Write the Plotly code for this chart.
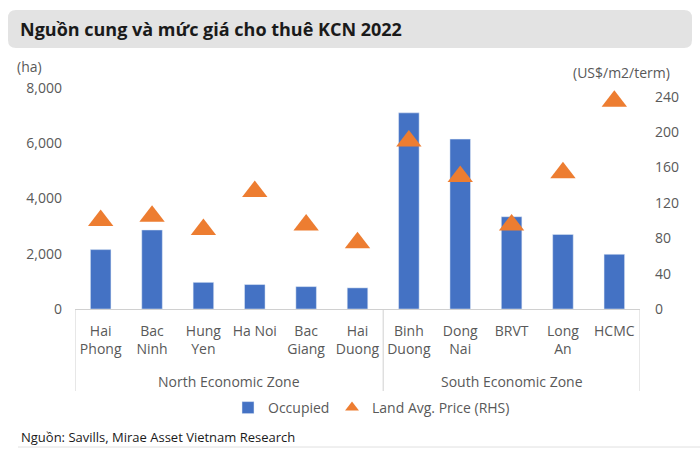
import plotly.graph_objects as go

cities = ["Hai<br>Phong", "Bac<br>Ninh", "Hung<br>Yen", "Ha Noi", "Bac<br>Giang", "Hai<br>Duong",
          "Binh<br>Duong", "Dong<br>Nai", "BRVT", "Long<br>An", "HCMC"]
zones = ["North Economic Zone"] * 6 + ["South Economic Zone"] * 5
occupied = [2150, 2860, 965, 885, 810, 765, 7100, 6150, 3340, 2700, 1980]
price = [100, 105, 90, 133, 95, 75, 190, 150, 95, 154, 235]
left_ticks = [0, 2000, 4000, 6000, 8000]
right_ticks = [0, 40, 80, 120, 160, 200, 240]

BLUE = "#4472C4"
ORANGE = "#ED7D31"
GREY = "#595959"
FONT = "Open Sans"

W, H = 700, 449
L, R, T, B = 75, 60, 88, 140
pw, ph = W - L - R, H - T - B

def px(x):
    return (x - L) / pw

def py(y):
    return (H - B - y) / ph

idx = list(range(len(cities)))

fig = go.Figure()
fig.add_trace(go.Bar(x=idx, y=occupied, name="Occupied", marker_color=BLUE, width=0.4, legend="legend"))
fig.add_trace(go.Scatter(x=idx, y=price, name="Land Avg. Price (RHS)", mode="markers", yaxis="y2",
                         marker=dict(symbol="triangle-up", size=22, color=ORANGE), legend="legend2"))

shapes = []
annotations = []

# title banner (rounded rect path in paper coords)
x0, x1, y0, y1 = px(8), px(692), py(48), py(10)
rx, ry = 8 / pw, 8 / ph
path = (f"M{x0+rx},{y0} L{x1-rx},{y0} Q{x1},{y0} {x1},{y0+ry} L{x1},{y1-ry} Q{x1},{y1} {x1-rx},{y1} "
        f"L{x0+rx},{y1} Q{x0},{y1} {x0},{y1-ry} L{x0},{y0+ry} Q{x0},{y0} {x0+rx},{y0} Z")
shapes.append(dict(type="path", path=path, xref="paper", yref="paper", fillcolor="#E3E3E3",
                   line=dict(width=0), layer="below"))
annotations.append(dict(text="<b>Nguồn cung và mức giá cho thuê KCN 2022</b>", xref="paper", yref="paper",
                        x=px(18), y=py(29), xanchor="left", yanchor="middle", showarrow=False,
                        font=dict(family=FONT, size=18, color="#1a1a1a")))

# axis unit labels
annotations.append(dict(text="(ha)", xref="paper", yref="paper", x=px(15), y=py(67), xanchor="left",
                        yanchor="middle", showarrow=False, font=dict(family=FONT, size=14, color=GREY)))
annotations.append(dict(text="(US$/m2/term)", xref="paper", yref="paper", x=px(672), y=py(72), xanchor="right",
                        yanchor="middle", showarrow=False, font=dict(family=FONT, size=14, color=GREY)))

# category group dividers and labels
groups = []
for i, z in enumerate(zones):
    if not groups or groups[-1][0] != z:
        groups.append([z, i, i])
    else:
        groups[-1][2] = i
bounds = sorted(set([g[1] - 0.5 for g in groups] + [g[2] + 0.5 for g in groups]))
for b in bounds:
    shapes.append(dict(type="line", xref="x", yref="paper", x0=b, x1=b, y0=0, y1=py(391),
                       line=dict(color="#D0D0D0", width=1)))
for z, a, b in groups:
    annotations.append(dict(text=z, xref="x", yref="paper", x=(a + b) / 2, y=py(381), yanchor="middle",
                            showarrow=False, font=dict(family=FONT, size=14, color=GREY)))

# source
annotations.append(dict(text="Nguồn: Savills, Mirae Asset Vietnam Research", xref="paper", yref="paper",
                        x=px(19), y=py(437), xanchor="left", yanchor="middle", showarrow=False,
                        font=dict(family=FONT, size=13, color="#1a1a1a")))
shapes.append(dict(type="line", xref="paper", yref="paper", x0=px(18), x1=px(700), y0=py(447), y1=py(447),
                   line=dict(color="#E0E0E0", width=1)))

legend_font = dict(family=FONT, size=14, color=GREY)
fig.update_layout(
    width=W, height=H,
    margin=dict(l=L, r=R, t=T, b=B),
    plot_bgcolor="white", paper_bgcolor="white",
    font=dict(family=FONT, size=14, color=GREY),
    showlegend=True,
    legend=dict(orientation="h", x=px(228), y=py(392), xanchor="left", yanchor="top",
                font=legend_font, itemwidth=30),
    legend2=dict(orientation="h", x=px(332), y=py(392), xanchor="left", yanchor="top",
                 font=legend_font, itemwidth=30, itemsizing="constant"),
    xaxis=dict(tickmode="array", tickvals=idx, ticktext=cities, range=[-0.5, len(cities) - 0.5],
               showline=True, linecolor="#D0D0D0", linewidth=1, ticks="", showgrid=False,
               ticklabelstandoff=9,
               tickfont=dict(family=FONT, size=14, color=GREY), fixedrange=True),
    yaxis=dict(range=[0, 8000], tickvals=left_ticks, tickformat=",d", showgrid=False, zeroline=False,
               showline=False, ticks="", ticklabelstandoff=12,
               tickfont=dict(family=FONT, size=14, color=GREY)),
    yaxis2=dict(range=[0, 250], tickvals=right_ticks, overlaying="y", side="right", showgrid=False,
                zeroline=False, showline=False, ticks="", ticklabelstandoff=14,
                tickfont=dict(family=FONT, size=14, color=GREY)),
    shapes=shapes, annotations=annotations, bargap=0.6,
)

fig.write_html("out.html", config={"displayModeBar": False},
               post_script="document.body.style.margin='0';document.body.style.overflow='hidden';")
